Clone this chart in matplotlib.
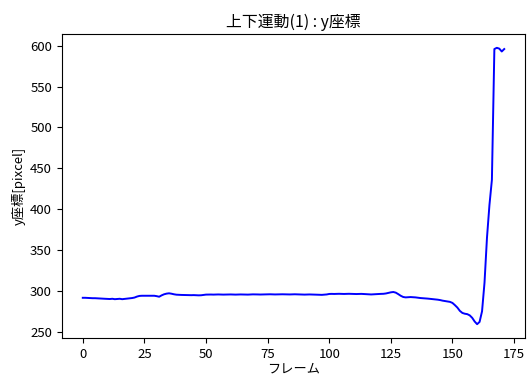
import matplotlib
matplotlib.use('Agg')
import matplotlib.pyplot as plt
import numpy as np

plt.rcParams['font.family'] = ['Noto Sans CJK JP', 'DejaVu Sans']
plt.rcParams['font.size'] = 9.5

# y coordinate of the tracked point, one value per frame
y_pos = [
    291.5, 291.5, 291.3, 291.2, 291.0, 291.0, 290.8, 290.6, 290.5, 290.3,
    290.2, 290.0, 290.3, 289.8, 290.0, 290.3, 289.8, 290.2, 290.5, 290.8,
    291.2, 291.8, 293.0, 293.8, 294.0, 294.0, 294.0, 294.1, 293.9, 294.0,
    293.5, 292.8, 294.5, 295.8, 296.6, 297.0, 296.5, 295.8, 295.3, 295.1,
    295.0, 294.9, 294.8, 294.8, 294.7, 294.8, 294.6, 294.5, 294.6, 295.0,
    295.4, 295.5, 295.5, 295.4, 295.5, 295.6, 295.5, 295.4, 295.5, 295.6,
    295.6, 295.5, 295.4, 295.5, 295.6, 295.5, 295.3, 295.4, 295.6, 295.7,
    295.7, 295.6, 295.5, 295.6, 295.7, 295.8, 295.8, 295.7, 295.6, 295.7,
    295.8, 295.8, 295.7, 295.6, 295.6, 295.7, 295.8, 295.7, 295.6, 295.5,
    295.4, 295.5, 295.6, 295.5, 295.4, 295.3, 295.2, 295.1, 295.3, 295.6,
    296.2, 296.3, 296.2, 296.3, 296.4, 296.3, 296.2, 296.3, 296.4, 296.3,
    296.2, 296.1, 296.2, 296.3, 296.1, 295.9, 295.7, 295.6, 295.8, 296.0,
    296.2, 296.3, 296.4, 296.8, 297.5, 298.2, 298.6, 297.8, 296.0, 294.0,
    292.5, 292.0, 292.2, 292.4, 292.2, 292.0, 291.6, 291.2, 291.0, 290.8,
    290.5, 290.2, 290.0, 289.6, 289.2, 288.7, 288.0, 287.5, 287.0, 286.5,
    285.2, 282.5, 279.5, 275.5, 273.0, 272.0, 271.5, 270.0, 267.0, 262.5,
    259.2, 262.0, 275.0, 310.0, 365.0, 405.0, 436.0, 596.0, 597.5, 596.5,
    593.0, 596.0,
]
frames = np.arange(len(y_pos))

fig = plt.figure(figsize=(5.27, 3.79), dpi=100)
ax = fig.add_axes([61.7 / 527, 1 - 338 / 379, (525.3 - 61.7) / 527, (338 - 34) / 379])
ax.plot(frames, y_pos, color='blue', linewidth=1.4)
ax.set_title('上下運動(1) : y座標', pad=5)
ax.set_xlabel('フレーム', labelpad=1)
ax.set_ylabel('y座標[pixcel]', labelpad=3)
ax.set_xticks(np.arange(0, 176, 25))
ax.set_yticks(np.arange(250, 601, 50))

fig.savefig('out.png', dpi=100)
